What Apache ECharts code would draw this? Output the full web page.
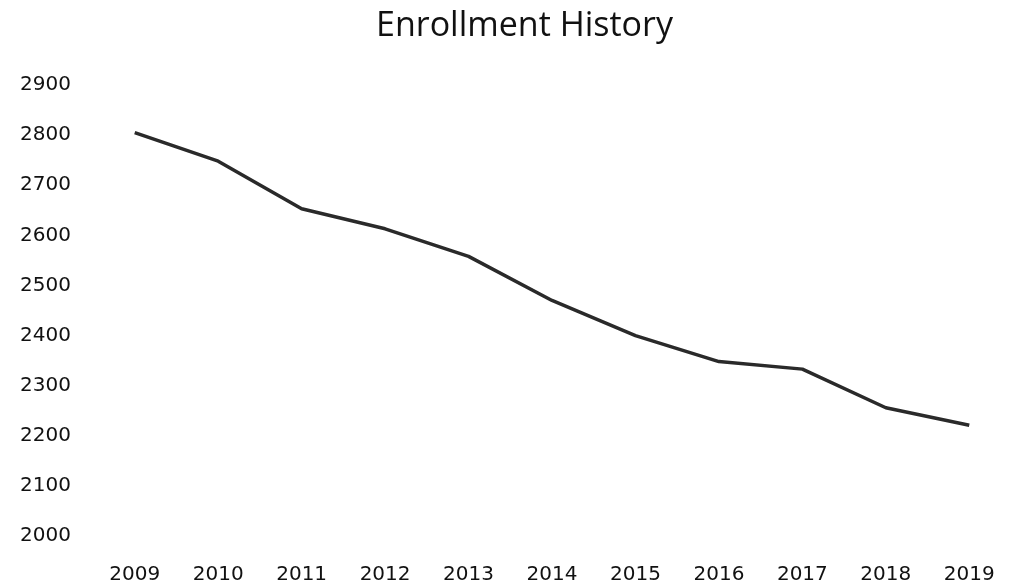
<!DOCTYPE html>
<html>
<head>
<meta charset="utf-8">
<script src="https://cdn.jsdelivr.net/npm/echarts@6/dist/echarts.min.js"></script>
<style>html,body{margin:0;padding:0;background:#fff;}#c{width:1011px;height:587px;}</style>
</head>
<body>
<div id="c"></div>
<script>
const years = ['2009','2010','2011','2012','2013','2014','2015','2016','2017','2018','2019'];
const enrollment = [2805, 2748, 2653, 2613, 2558, 2470, 2400, 2348, 2333, 2256, 2221];
const yMin = 2000, yMax = 2900, yStep = 100;

const chart = echarts.init(document.getElementById('c'));
chart.setOption({
  animation: false,
  backgroundColor: '#ffffff',
  title: {
    text: 'Enrollment History',
    left: 371,
    top: 4,
    textStyle: { fontFamily: 'Open Sans', fontSize: 34, fontWeight: 'normal', color: '#111' }
  },
  grid: { left: 93, right: 0, top: 85, bottom: 51 },
  xAxis: {
    type: 'category',
    data: years,
    boundaryGap: true,
    axisLine: { show: false },
    axisTick: { show: false },
    axisLabel: { margin: 29, fontFamily: 'DejaVu Sans', fontSize: 20, color: '#111' }
  },
  yAxis: {
    type: 'value',
    min: yMin, max: yMax, interval: yStep,
    axisLine: { show: false },
    axisTick: { show: false },
    splitLine: { show: false },
    axisLabel: { margin: 22, fontFamily: 'DejaVu Sans', fontSize: 20, color: '#111', formatter: v => String(v) }
  },
  series: [{
    type: 'line',
    data: enrollment,
    showSymbol: false,
    symbol: 'none',
    lineStyle: { color: '#2a2a2a', width: 3.5 }
  }]
});
</script>
</body>
</html>
